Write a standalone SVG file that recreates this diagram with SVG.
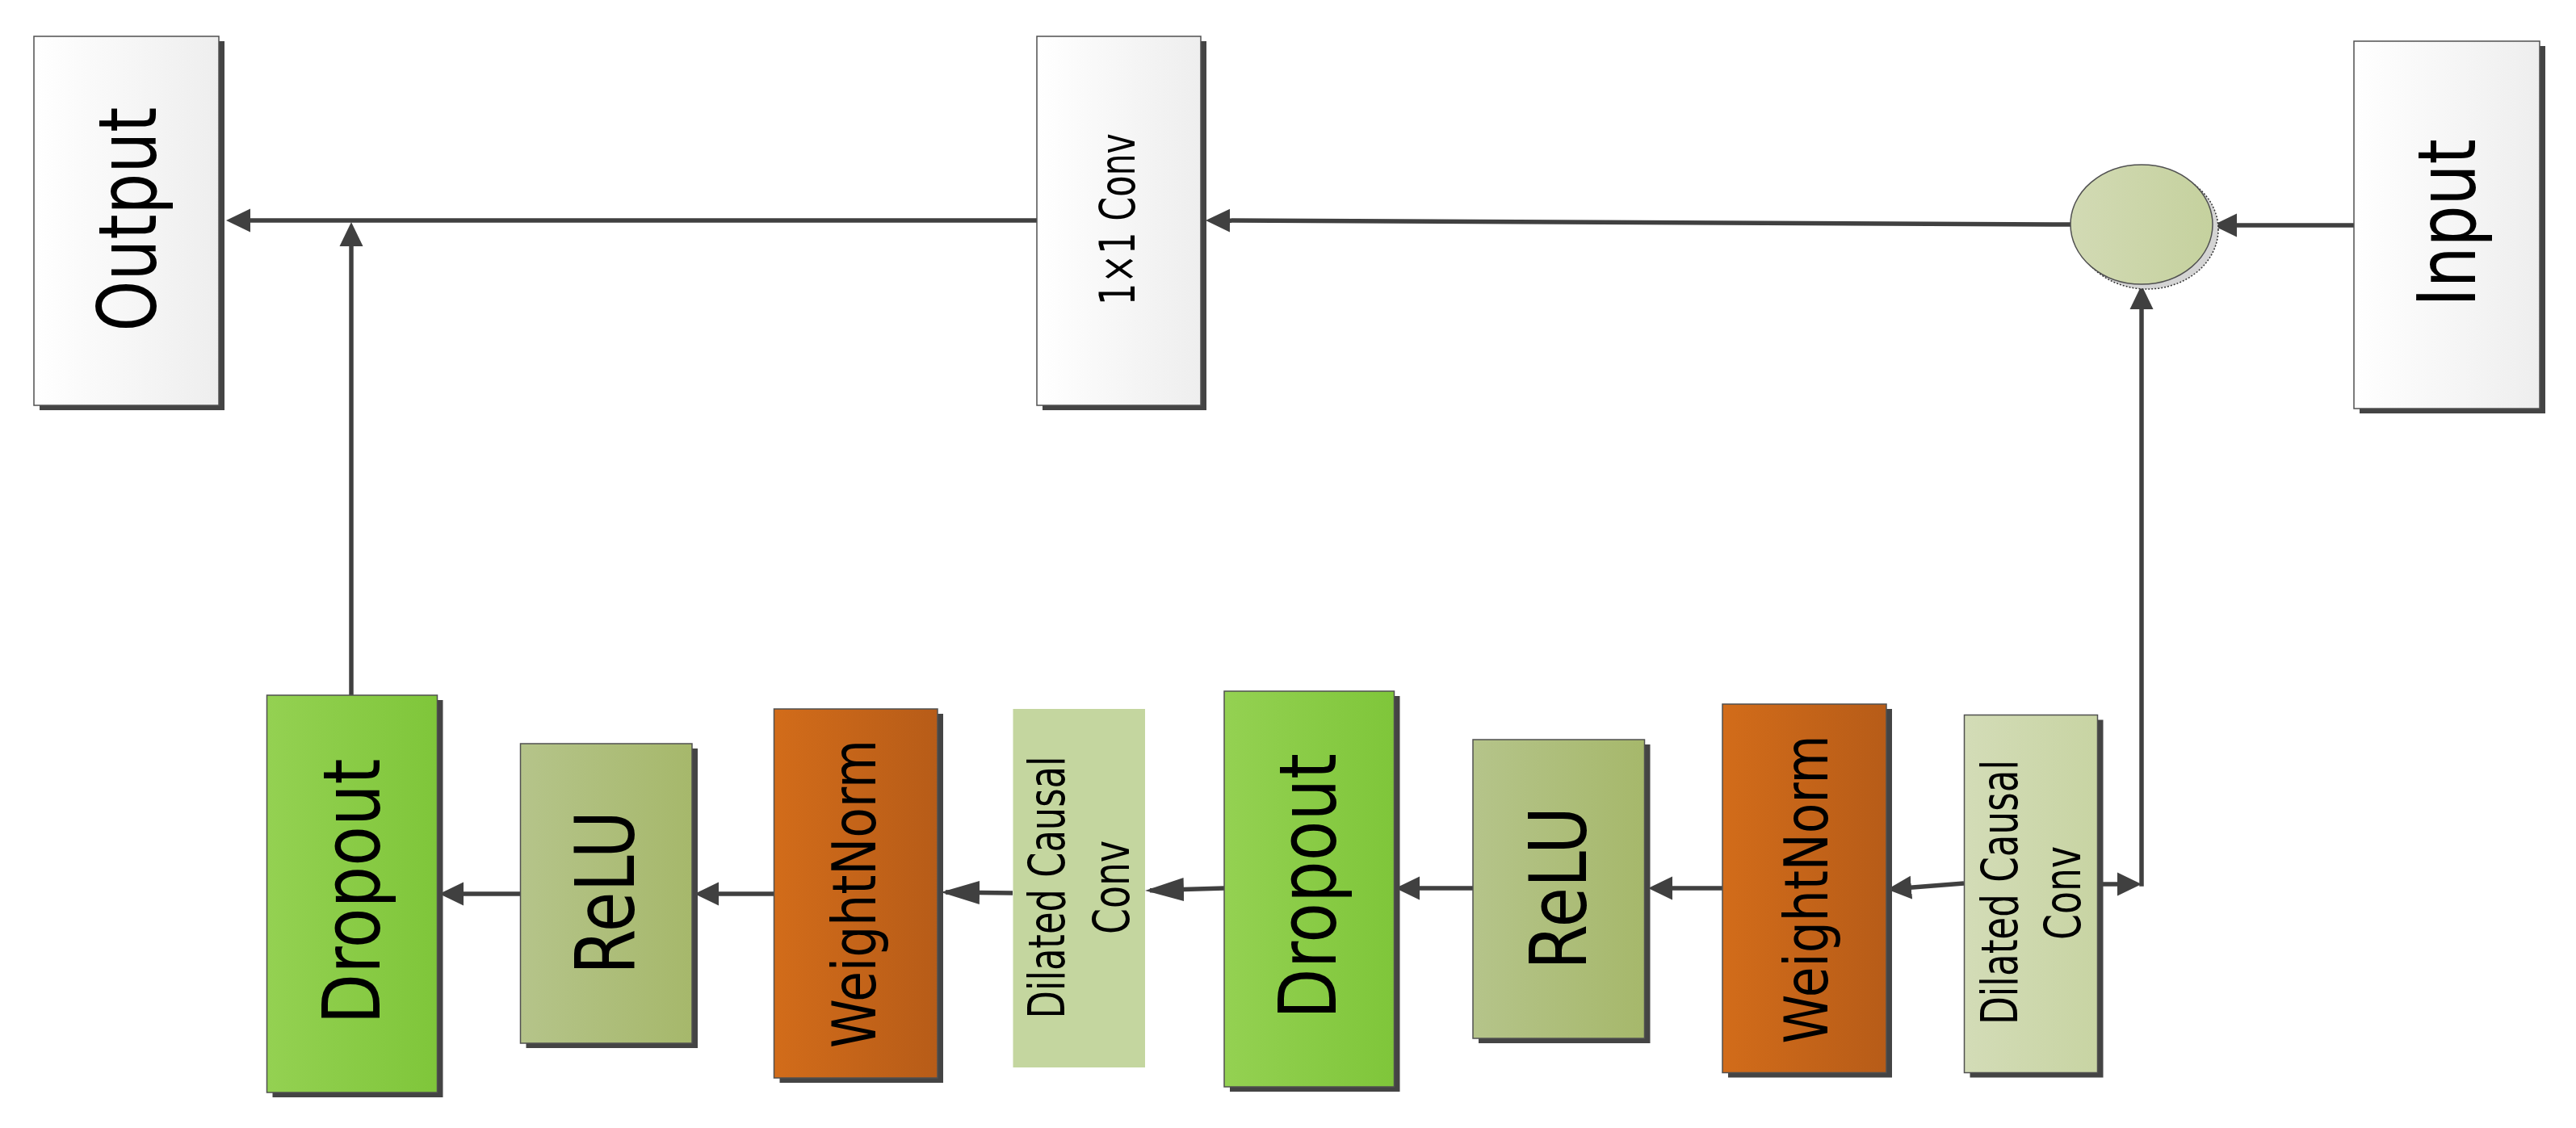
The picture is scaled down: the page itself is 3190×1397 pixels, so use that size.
<svg xmlns="http://www.w3.org/2000/svg" width="3190" height="1397" viewBox="0 0 3190 1397">
<style>
.box{stroke:#505050;stroke-width:1.5}
.shadow{fill:#444}
.lbl{font-family:"DejaVu Sans","Liberation Sans",sans-serif;fill:#000;text-anchor:middle}
.conn{stroke:#404040;stroke-width:5.5;fill:none}
</style>
<defs>
<linearGradient id="gWhite" x1="0" y1="0" x2="1" y2="0"><stop offset="0" stop-color="#ffffff"/><stop offset="1" stop-color="#eeeeee"/></linearGradient>
<linearGradient id="gDrop" x1="0" y1="0" x2="1" y2="0"><stop offset="0" stop-color="#94d152"/><stop offset="1" stop-color="#7fc63a"/></linearGradient>
<linearGradient id="gRelu" x1="0" y1="0" x2="1" y2="0"><stop offset="0" stop-color="#b5c48a"/><stop offset="1" stop-color="#a6b86b"/></linearGradient>
<linearGradient id="gWN" x1="0" y1="0" x2="1" y2="0"><stop offset="0" stop-color="#d26c1a"/><stop offset="1" stop-color="#b75c18"/></linearGradient>
<linearGradient id="gDil" x1="0" y1="0" x2="1" y2="0"><stop offset="0" stop-color="#d3dcb7"/><stop offset="1" stop-color="#c8d4a3"/></linearGradient>
<linearGradient id="gCirc" x1="0" y1="0" x2="1" y2="0"><stop offset="0" stop-color="#d2dab4"/><stop offset="1" stop-color="#c5d19e"/></linearGradient>
<marker id="ah" viewBox="-24 -15 30 30" markerWidth="30" markerHeight="30" refX="0" refY="0" orient="auto" markerUnits="userSpaceOnUse">
<path d="M6,0 L-24,-14.5 L-24,14.5 Z" fill="#404040"/>
</marker>
<marker id="ahL" viewBox="-42 -15 48 30" markerWidth="48" markerHeight="30" refX="0" refY="0" orient="auto" markerUnits="userSpaceOnUse">
<path d="M6,0 L-42,-14.5 L-42,14.5 Z" fill="#404040"/>
</marker>
</defs>
<rect width="3190" height="1397" fill="#ffffff"/>

<g id="connectors">
<line class="conn" x1="1284" y1="273" x2="286" y2="273" marker-end="url(#ah)"/>
<line class="conn" x1="435" y1="861" x2="435" y2="281" marker-end="url(#ah)"/>
<line class="conn" x1="2564" y1="278" x2="1499" y2="273" marker-end="url(#ah)"/>
<line class="conn" x1="2915" y1="279" x2="2746" y2="279" marker-end="url(#ah)"/>
<line class="conn" x1="2652" y1="1097.75" x2="2652" y2="359" marker-end="url(#ah)"/>
<line class="conn" x1="2597" y1="1095" x2="2646" y2="1095" marker-end="url(#ah)"/>
<line class="conn" x1="2432" y1="1094" x2="2343" y2="1101.1" marker-end="url(#ah)"/>
<line class="conn" x1="2133" y1="1100" x2="2047" y2="1100" marker-end="url(#ah)"/>
<line class="conn" x1="1824" y1="1100" x2="1734" y2="1100" marker-end="url(#ah)"/>
<line class="conn" x1="1516" y1="1100" x2="1424" y2="1102.8" marker-end="url(#ahL)"/>
<line class="conn" x1="1254" y1="1106" x2="1171" y2="1105.1" marker-end="url(#ahL)"/>
<line class="conn" x1="958" y1="1107" x2="866" y2="1107" marker-end="url(#ah)"/>
<line class="conn" x1="644" y1="1107" x2="550" y2="1107" marker-end="url(#ah)"/>
</g>

<g id="output">
<rect class="shadow" x="49" y="51" width="229" height="457"/>
<rect class="box" x="42" y="45" width="229" height="457" fill="url(#gWhite)"/>
<text class="lbl" font-size="100" textLength="278" lengthAdjust="spacingAndGlyphs" transform="translate(193,271.5) rotate(-90)">Output</text>
</g>

<g id="conv1x1">
<rect class="shadow" x="1291" y="51" width="203" height="457"/>
<rect class="box" x="1284" y="45" width="203" height="457" fill="url(#gWhite)"/>
<text class="lbl" font-size="60" textLength="213" lengthAdjust="spacingAndGlyphs" transform="translate(1405,271.5) rotate(-90)">1×1 Conv</text>
</g>

<g id="sum">
<ellipse cx="2659" cy="284" rx="88" ry="74" fill="#d4d4d4" stroke="#333" stroke-width="1.5" stroke-dasharray="2,2"/>
<ellipse cx="2652" cy="278" rx="88" ry="74" fill="url(#gCirc)" stroke="#505050" stroke-width="1.5"/>
</g>

<g id="input">
<rect class="shadow" x="2922" y="57" width="230" height="455"/>
<rect class="box" x="2915" y="51" width="230" height="455" fill="url(#gWhite)"/>
<text class="lbl" font-size="100" textLength="208" lengthAdjust="spacingAndGlyphs" transform="translate(3065,276) rotate(-90)">Input</text>
</g>

<g id="dropout1">
<rect class="shadow" x="337.5" y="867" width="211" height="492"/>
<rect class="box" x="330.5" y="861" width="211" height="492" fill="url(#gDrop)"/>
<text class="lbl" font-size="98" textLength="329" lengthAdjust="spacingAndGlyphs" transform="translate(469.5,1104) rotate(-90)">Dropout</text>
</g>

<g id="relu1">
<rect class="shadow" x="651.5" y="927" width="212.5" height="371"/>
<rect class="box" x="644.5" y="921" width="212.5" height="371" fill="url(#gRelu)"/>
<text class="lbl" font-size="102" textLength="203" lengthAdjust="spacingAndGlyphs" transform="translate(785,1105.5) rotate(-90)">ReLU</text>
</g>

<g id="weightnorm1">
<rect class="shadow" x="965.5" y="884" width="202.5" height="457"/>
<rect class="box" x="958.5" y="878" width="202.5" height="457" fill="url(#gWN)"/>
<text class="lbl" font-size="75" textLength="382" lengthAdjust="spacingAndGlyphs" transform="translate(1083.5,1107) rotate(-90)">WeightNorm</text>
</g>

<g id="dilated1">
<rect x="1254.5" y="878" width="163.5" height="444" fill="#c4d69f"/>
<text class="lbl" font-size="63" textLength="325" lengthAdjust="spacingAndGlyphs" transform="translate(1318,1099) rotate(-90)">Dilated Causal</text>
<text class="lbl" font-size="63" textLength="116" lengthAdjust="spacingAndGlyphs" transform="translate(1398,1099) rotate(-90)">Conv</text>
</g>

<g id="dropout2">
<rect class="shadow" x="1523" y="862" width="210.5" height="490"/>
<rect class="box" x="1516" y="856" width="210.5" height="490" fill="url(#gDrop)"/>
<text class="lbl" font-size="98" textLength="329" lengthAdjust="spacingAndGlyphs" transform="translate(1653.5,1097.5) rotate(-90)">Dropout</text>
</g>

<g id="relu2">
<rect class="shadow" x="1831" y="922" width="212.5" height="370"/>
<rect class="box" x="1824" y="916" width="212.5" height="370" fill="url(#gRelu)"/>
<text class="lbl" font-size="98" textLength="202" lengthAdjust="spacingAndGlyphs" transform="translate(1963.5,1100) rotate(-90)">ReLU</text>
</g>

<g id="weightnorm2">
<rect class="shadow" x="2140" y="878" width="203" height="456.5"/>
<rect class="box" x="2133" y="872" width="203" height="456.5" fill="url(#gWN)"/>
<text class="lbl" font-size="75" textLength="382" lengthAdjust="spacingAndGlyphs" transform="translate(2262.5,1101.5) rotate(-90)">WeightNorm</text>
</g>

<g id="dilated2">
<rect class="shadow" x="2439.5" y="891.5" width="165" height="443"/>
<rect class="box" x="2432.5" y="885.5" width="165" height="443" fill="url(#gDil)"/>
<text class="lbl" font-size="63" textLength="328" lengthAdjust="spacingAndGlyphs" transform="translate(2497.5,1105) rotate(-90)">Dilated Causal</text>
<text class="lbl" font-size="63" textLength="116" lengthAdjust="spacingAndGlyphs" transform="translate(2575.5,1106) rotate(-90)">Conv</text>
</g>
</svg>
